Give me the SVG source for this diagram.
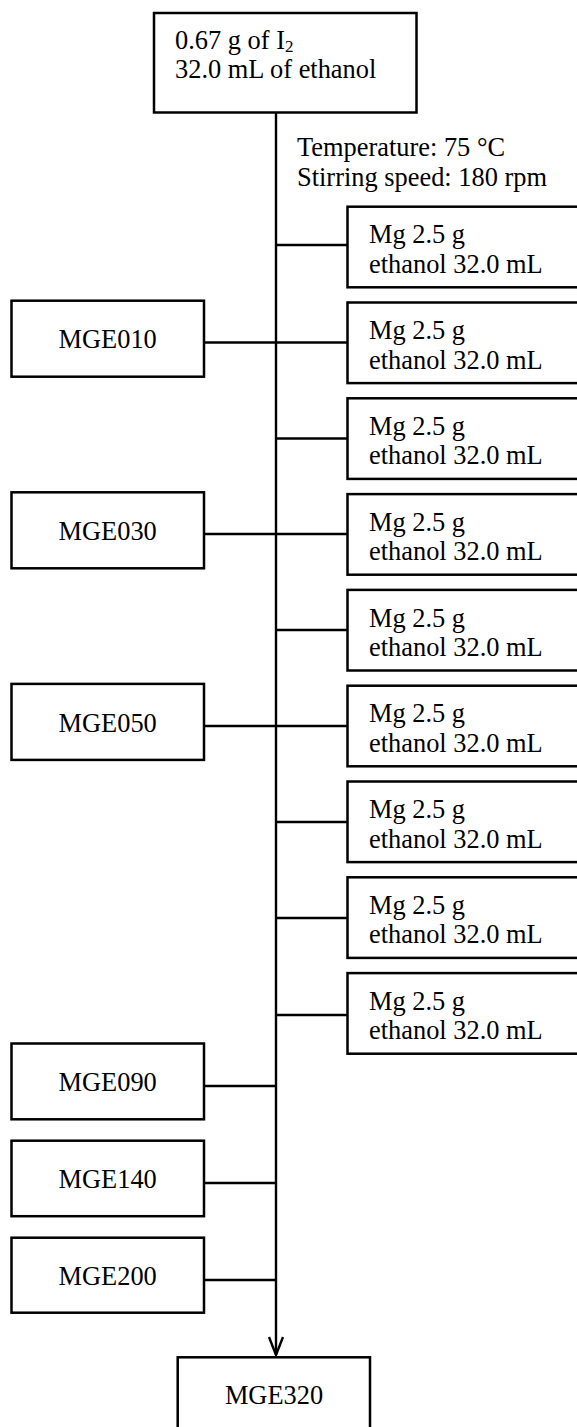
<svg xmlns="http://www.w3.org/2000/svg" width="577" height="1427" viewBox="0 0 577 1427">
<defs>
<style>
.box{fill:#fff;stroke:#000;stroke-width:2.5}
.t{font-family:"Liberation Serif","Times New Roman",serif;font-size:26.4px;fill:#000}
.c{text-anchor:middle}
.ln{stroke:#000;stroke-width:2.4;fill:none}
</style>
<marker id="arr" viewBox="0 0 20 16" refX="19" refY="8" markerWidth="20" markerHeight="16" markerUnits="userSpaceOnUse" orient="auto">
<path d="M1,1 L19,8 L1,15" fill="none" stroke="#000" stroke-width="2.4"/>
</marker>
</defs>
<rect width="577" height="1427" fill="#fff"/>
<g id="connectors">
<line class="ln" x1="276" y1="113" x2="276" y2="1355" marker-end="url(#arr)"/>
<line class="ln" x1="276" y1="245" x2="348" y2="245"/>
<line class="ln" x1="204" y1="342.5" x2="348" y2="342.5"/>
<line class="ln" x1="276" y1="438.5" x2="348" y2="438.5"/>
<line class="ln" x1="204" y1="534" x2="348" y2="534"/>
<line class="ln" x1="276" y1="630" x2="348" y2="630"/>
<line class="ln" x1="204" y1="726" x2="348" y2="726"/>
<line class="ln" x1="276" y1="822" x2="348" y2="822"/>
<line class="ln" x1="276" y1="918" x2="348" y2="918"/>
<line class="ln" x1="276" y1="1015" x2="348" y2="1015"/>
<line class="ln" x1="204" y1="1086" x2="276" y2="1086"/>
<line class="ln" x1="204" y1="1183" x2="276" y2="1183"/>
<line class="ln" x1="204" y1="1280" x2="276" y2="1280"/>
</g>
<g id="conditions">
<text class="t" x="297" y="156">Temperature: 75 °C</text>
<text class="t" x="297" y="186">Stirring speed: 180 rpm</text>
</g>
<g id="start">
<rect class="box" x="154" y="13" width="262.5" height="99.5"/>
<text class="t" x="175" y="49">0.67 g of I<tspan font-size="17" dy="3">2</tspan></text>
<text class="t" x="175" y="78">32.0 mL of ethanol</text>
</g>
<g id="mg1"><rect class="box" x="347.5" y="206.7" width="240" height="80.6"/><text class="t" x="369" y="243.3">Mg 2.5 g</text><text class="t" x="369" y="272.7">ethanol 32.0 mL</text></g>
<g id="mg2"><rect class="box" x="347.5" y="302.5" width="240" height="80.6"/><text class="t" x="369" y="339.1">Mg 2.5 g</text><text class="t" x="369" y="368.5">ethanol 32.0 mL</text></g>
<g id="mg3"><rect class="box" x="347.5" y="398.3" width="240" height="80.6"/><text class="t" x="369" y="434.9">Mg 2.5 g</text><text class="t" x="369" y="464.3">ethanol 32.0 mL</text></g>
<g id="mg4"><rect class="box" x="347.5" y="494.1" width="240" height="80.6"/><text class="t" x="369" y="530.7">Mg 2.5 g</text><text class="t" x="369" y="560.1">ethanol 32.0 mL</text></g>
<g id="mg5"><rect class="box" x="347.5" y="589.9" width="240" height="80.6"/><text class="t" x="369" y="626.5">Mg 2.5 g</text><text class="t" x="369" y="655.9">ethanol 32.0 mL</text></g>
<g id="mg6"><rect class="box" x="347.5" y="685.7" width="240" height="80.6"/><text class="t" x="369" y="722.3">Mg 2.5 g</text><text class="t" x="369" y="751.7">ethanol 32.0 mL</text></g>
<g id="mg7"><rect class="box" x="347.5" y="781.5" width="240" height="80.6"/><text class="t" x="369" y="818.1">Mg 2.5 g</text><text class="t" x="369" y="847.5">ethanol 32.0 mL</text></g>
<g id="mg8"><rect class="box" x="347.5" y="877.3" width="240" height="80.6"/><text class="t" x="369" y="913.9">Mg 2.5 g</text><text class="t" x="369" y="943.3">ethanol 32.0 mL</text></g>
<g id="mg9"><rect class="box" x="347.5" y="973.1" width="240" height="80.6"/><text class="t" x="369" y="1009.7">Mg 2.5 g</text><text class="t" x="369" y="1039.1">ethanol 32.0 mL</text></g>
<g id="mge010"><rect class="box" x="11.5" y="300.7" width="192.5" height="76"/><text class="t c" x="107.7" y="348.3">MGE010</text></g>
<g id="mge030"><rect class="box" x="11.5" y="492.3" width="192.5" height="76"/><text class="t c" x="107.7" y="539.9">MGE030</text></g>
<g id="mge050"><rect class="box" x="11.5" y="683.9" width="192.5" height="76"/><text class="t c" x="107.7" y="731.5">MGE050</text></g>
<g id="mge090"><rect class="box" x="11.5" y="1043.5" width="192.5" height="75.8"/><text class="t c" x="107.7" y="1091">MGE090</text></g>
<g id="mge140"><rect class="box" x="11.5" y="1140.7" width="192.5" height="75.5"/><text class="t c" x="107.7" y="1188">MGE140</text></g>
<g id="mge200"><rect class="box" x="11.5" y="1237.7" width="192.5" height="75"/><text class="t c" x="107.7" y="1285">MGE200</text></g>
<g id="mge320"><rect class="box" x="177.7" y="1357.3" width="192.3" height="90"/><text class="t c" x="274" y="1404">MGE320</text></g>
</svg>
